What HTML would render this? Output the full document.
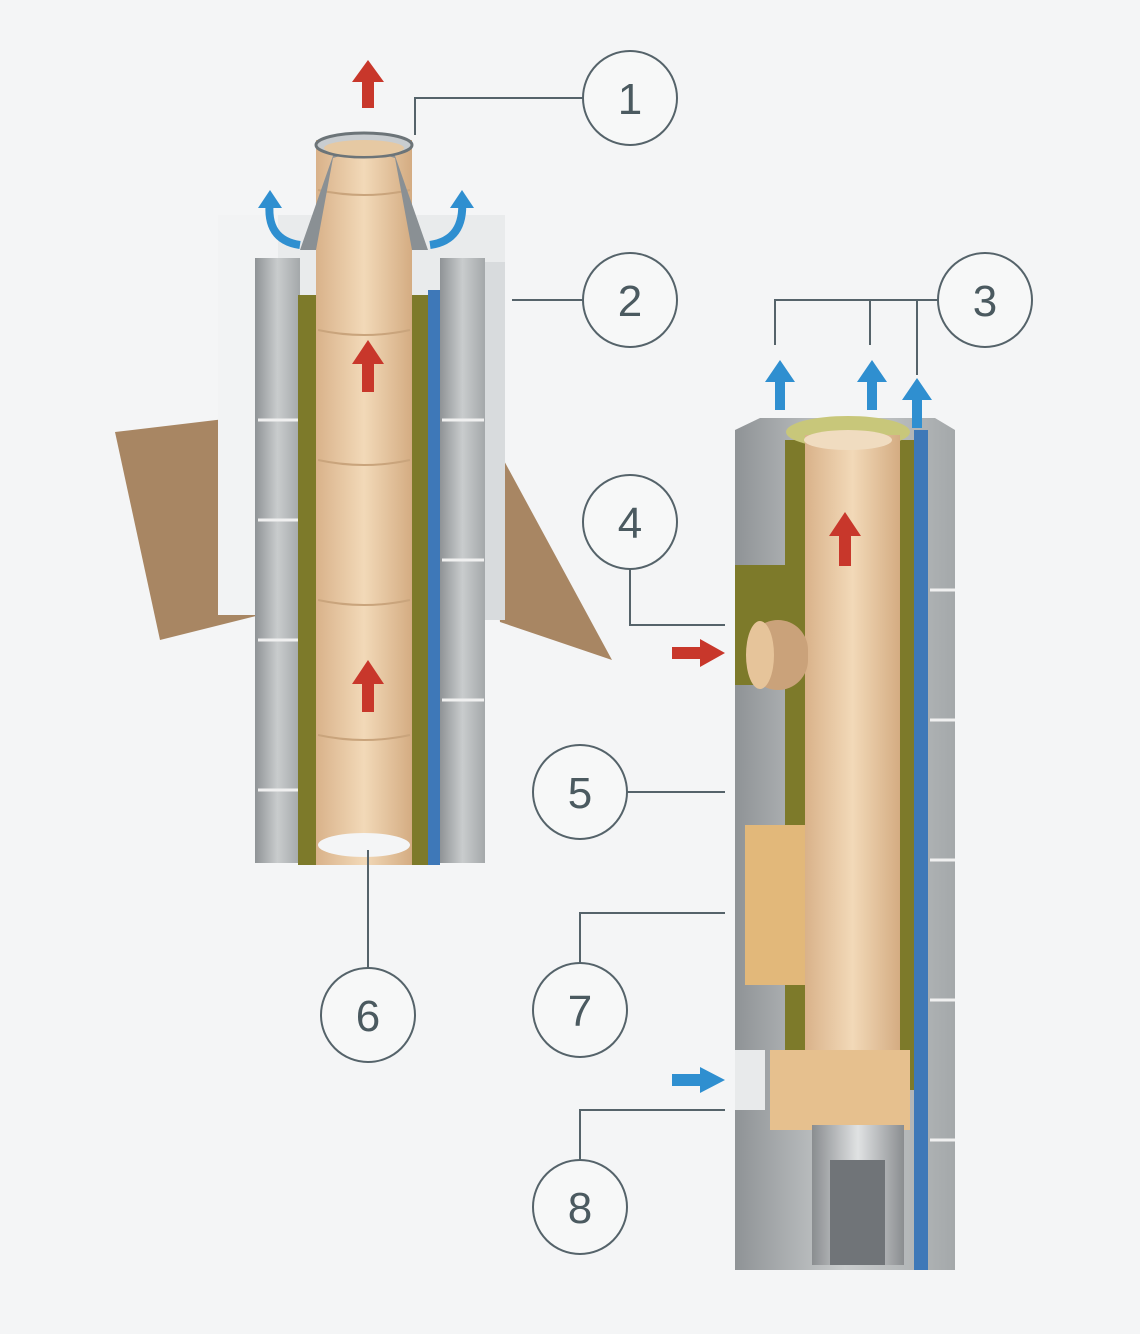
<!DOCTYPE html>
<html><head><meta charset="utf-8"><style>
html,body{margin:0;padding:0;background:#f4f5f6;}
svg{display:block}
text{font-family:"Liberation Sans",sans-serif;font-size:44px;fill:#4b5a60;text-anchor:middle}
</style></head><body>
<svg width="1140" height="1334" viewBox="0 0 1140 1334">
<defs>
<linearGradient id="tan" x1="0" x2="1"><stop offset="0" stop-color="#d9b28a"/><stop offset="0.5" stop-color="#f2d9b8"/><stop offset="1" stop-color="#d4ac82"/></linearGradient>
<linearGradient id="grey" x1="0" x2="1"><stop offset="0" stop-color="#8f9396"/><stop offset="0.5" stop-color="#c9cccd"/><stop offset="1" stop-color="#a4a8aa"/></linearGradient>
<linearGradient id="gp" x1="0" x2="1"><stop offset="0" stop-color="#8a8d90"/><stop offset="0.5" stop-color="#e0e2e3"/><stop offset="1" stop-color="#8a8d90"/></linearGradient>
</defs>
<!-- roof -->
<polygon points="115,432 258,415 272,612 160,640" fill="#a88663"/>
<polygon points="482,420 612,660 500,622" fill="#a88663"/>
<!-- flashing box -->
<polygon points="218,215 505,215 505,620 275,620 275,260 218,255" fill="#e9ebec"/>
<rect x="218" y="215" width="60" height="400" fill="#f2f3f4"/>
<rect x="480" y="262" width="25" height="358" fill="#d8dbdd"/>
<!-- left chimney -->
<rect x="255" y="258" width="45" height="605" fill="url(#grey)"/>
<rect x="440" y="258" width="45" height="605" fill="url(#grey)"/>
<g stroke="#f0f0f0" stroke-width="3">
<path d="M258,420H298 M258,520H298 M258,640H298 M258,790H298 M442,420H484 M442,560H484 M442,700H484"/>
</g>
<rect x="298" y="295" width="22" height="570" fill="#7d7a2a"/>
<rect x="410" y="295" width="18" height="570" fill="#7d7a2a"/>
<rect x="428" y="290" width="12" height="575" fill="#3e78b8"/>
<rect x="316" y="140" width="96" height="725" fill="url(#tan)"/>
<g stroke="#c9a47c" stroke-width="2" fill="none">
<path d="M318,190Q364,200 410,190 M318,330Q364,340 410,330 M318,460Q364,470 410,460 M318,600Q364,610 410,600 M318,735Q364,745 410,735"/>
</g>
<ellipse cx="364" cy="845" rx="46" ry="12" fill="#f4f5f6"/>
<path d="M300,250 L335,150 Q364,135 393,150 L428,250 L412,250 L395,158 Q364,148 333,158 L316,250Z" fill="#8a9094"/>
<ellipse cx="364" cy="145" rx="48" ry="12" fill="#c9cdd0" stroke="#6c7478" stroke-width="3"/>
<ellipse cx="364" cy="148" rx="40" ry="8" fill="#e6c9a3"/>
<!-- right chimney -->
<polygon points="735,430 760,418 935,418 955,430 955,1270 735,1270" fill="url(#grey)"/>
<g stroke="#f0f0f0" stroke-width="3">
<path d="M930,590H955 M930,720H955 M930,860H955 M930,1000H955 M930,1140H955"/>
</g>
<rect x="785" y="440" width="22" height="620" fill="#7d7a2a"/>
<rect x="735" y="565" width="55" height="120" fill="#7d7a2a"/>
<rect x="900" y="440" width="14" height="650" fill="#7d7a2a"/>
<rect x="914" y="430" width="14" height="840" fill="#3e78b8"/>
<rect x="745" y="825" width="60" height="160" fill="#e2b87a"/>
<ellipse cx="848" cy="432" rx="62" ry="16" fill="#c8c77a"/>
<rect x="805" y="435" width="95" height="680" fill="url(#tan)"/>
<ellipse cx="848" cy="440" rx="44" ry="10" fill="#f0dcc0"/>
<rect x="748" y="620" width="60" height="70" rx="30" fill="#caa27a"/>
<ellipse cx="760" cy="655" rx="14" ry="34" fill="#e6c49a"/>
<rect x="770" y="1050" width="140" height="80" fill="#e6c08e"/>
<rect x="812" y="1125" width="92" height="140" fill="url(#gp)"/>
<rect x="830" y="1160" width="55" height="105" fill="#707478"/>
<rect x="735" y="1050" width="30" height="60" fill="#e8eaeb"/>
<!-- arrows red -->
<g fill="#c8372b">
<polygon points="368,60 352,82 362,82 362,108 374,108 374,82 384,82"/>
<polygon points="368,340 352,364 362,364 362,392 374,392 374,364 384,364"/>
<polygon points="368,660 352,684 362,684 362,712 374,712 374,684 384,684"/>
<polygon points="845,512 829,536 839,536 839,566 851,566 851,536 861,536"/>
<polygon points="725,653 700,639 700,647 672,647 672,659 700,659 700,667"/>
</g>
<g fill="#2f8fd0">
<polygon points="780,360 765,382 775,382 775,410 785,410 785,382 795,382"/>
<polygon points="872,360 857,382 867,382 867,410 877,410 877,382 887,382"/>
<polygon points="917,378 902,400 912,400 912,428 922,428 922,400 932,400"/>
<polygon points="725,1080 700,1067 700,1074 672,1074 672,1086 700,1086 700,1093"/>
</g>
<path d="M300,245 Q265,240 270,200" stroke="#2f8fd0" stroke-width="8" fill="none"/>
<polygon points="270,190 258,208 282,208" fill="#2f8fd0"/>
<path d="M430,245 Q465,240 462,200" stroke="#2f8fd0" stroke-width="8" fill="none"/>
<polygon points="462,190 450,208 474,208" fill="#2f8fd0"/>
<!-- leader lines -->
<g stroke="#55636a" stroke-width="2" fill="none">
<path d="M583,98 H415 V135"/>
<path d="M583,300 H512"/>
<path d="M938,300 H775 V345 M870,300 V345 M917,300 V375"/>
<path d="M630,569 V625 H725"/>
<path d="M533,792 H725"/>
<path d="M368,968 V850"/>
<path d="M580,963 V913 H725"/>
<path d="M580,1160 V1110 H725"/>
</g>
<g fill="#f7f8f8" stroke="#55636a" stroke-width="2">
<circle cx="630" cy="98" r="47"/><circle cx="630" cy="300" r="47"/><circle cx="985" cy="300" r="47"/>
<circle cx="630" cy="522" r="47"/><circle cx="580" cy="792" r="47"/><circle cx="368" cy="1015" r="47"/>
<circle cx="580" cy="1010" r="47"/><circle cx="580" cy="1207" r="47"/>
</g>
<text x="630" y="114">1</text><text x="630" y="316">2</text><text x="985" y="316">3</text>
<text x="630" y="538">4</text><text x="580" y="808">5</text><text x="368" y="1031">6</text>
<text x="580" y="1026">7</text><text x="580" y="1223">8</text>
</svg>
</body></html>
